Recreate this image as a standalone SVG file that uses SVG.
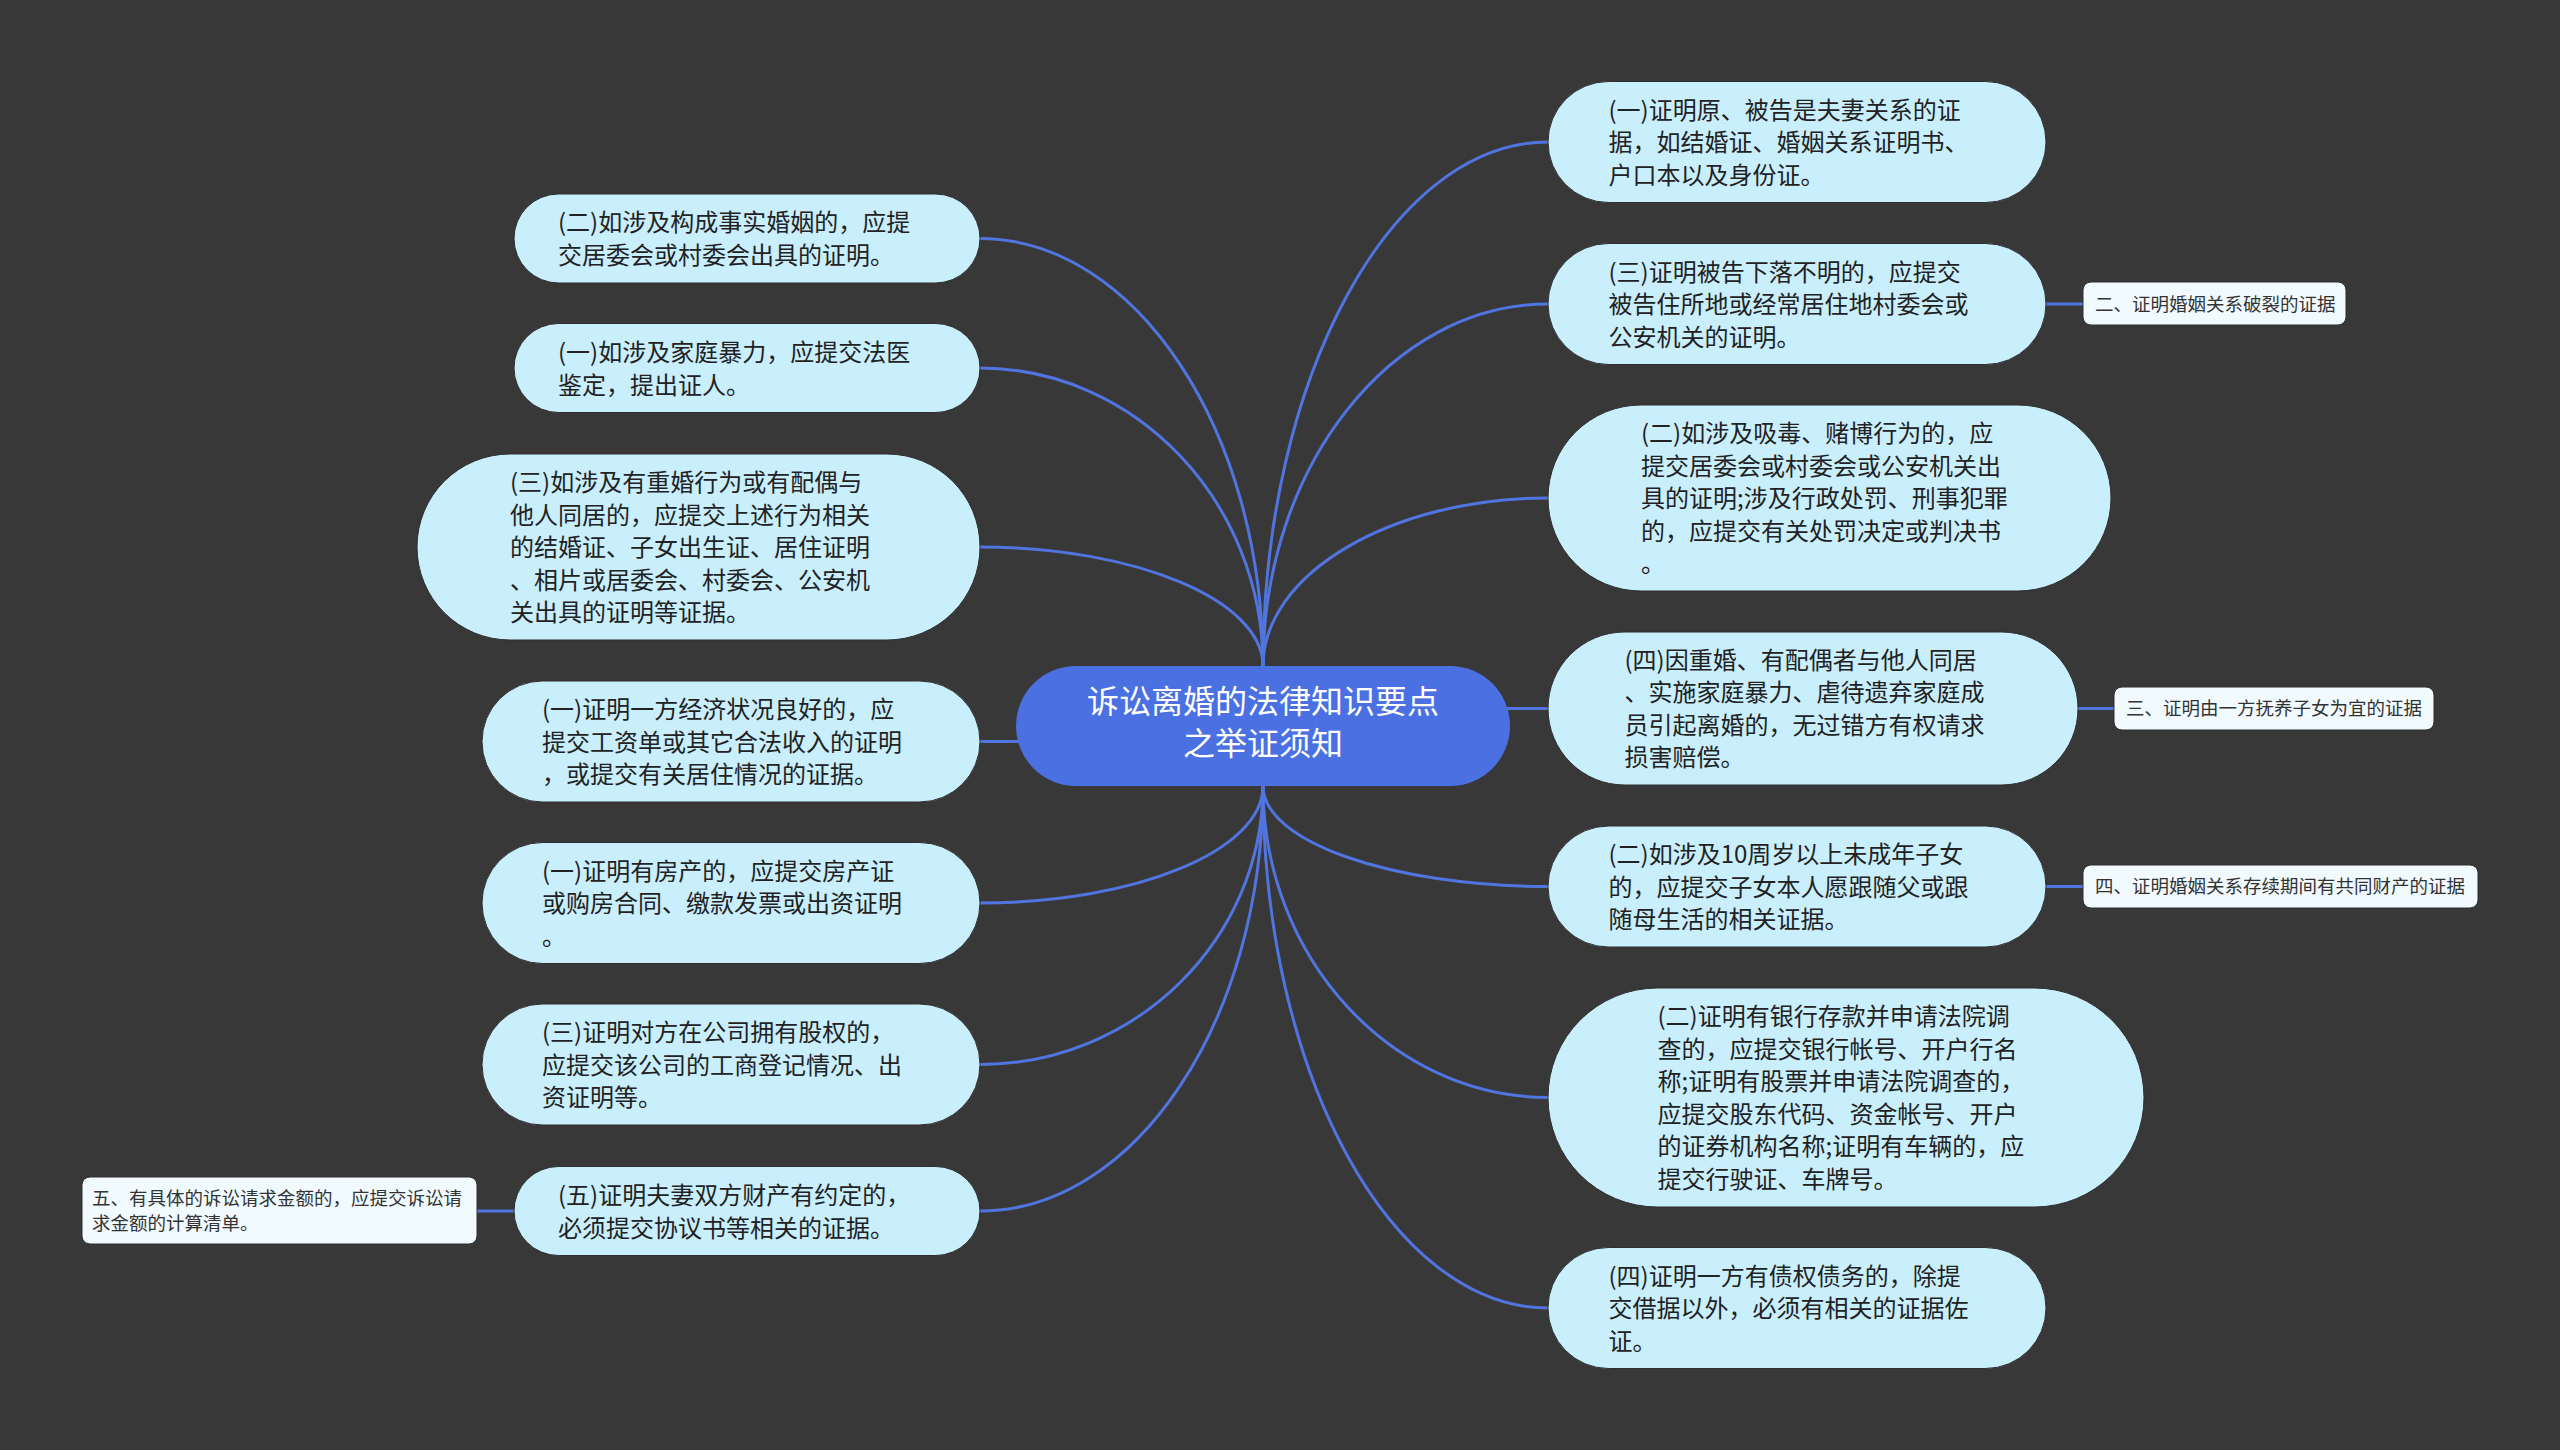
<svg xmlns="http://www.w3.org/2000/svg" width="2560" height="1450" viewBox="0 0 2560 1450">
<style>
.bg{fill:#393839}
.lk{fill:none;stroke:#5075e0;stroke-width:3}
.nd{fill:#c9eefc;stroke:#2e2e2e;stroke-width:1}
.sm{fill:#f0faff;stroke:#2e2e2e;stroke-width:1}
.ct{fill:#4b70e2}
.t{font-family:"Noto Sans CJK SC","Microsoft YaHei",sans-serif;font-size:24px;fill:#222}
.ts{font-family:"Noto Sans CJK SC","Microsoft YaHei",sans-serif;font-size:18.5px;fill:#333}
.tc{font-family:"Noto Sans CJK SC","Microsoft YaHei",sans-serif;font-size:32px;fill:#ffffff;text-anchor:middle}
</style>
<rect class="bg" x="0" y="0" width="2560" height="1450"/>
<g id="connectors">
<path class="lk" d="M1263,666 C1263,430.9 1135.7,238.5 980,238.5"/>
<path class="lk" d="M1263,666 C1263,502.1 1135.7,368 980,368"/>
<path class="lk" d="M1263,666 C1263,600.6 1135.7,547 980,547"/>
<path class="lk" d="M1263,741.5 H980"/>
<path class="lk" d="M1263,786 C1263,850.4 1135.7,903 980,903"/>
<path class="lk" d="M1263,786 C1263,939.2 1135.7,1064.5 980,1064.5"/>
<path class="lk" d="M1263,786 C1263,1019.8 1135.7,1211 980,1211"/>
<path class="lk" d="M1263,666 C1263,377.8 1391.3,142 1548,142"/>
<path class="lk" d="M1263,666 C1263,466.9 1391.3,304 1548,304"/>
<path class="lk" d="M1263,666 C1263,573.6 1391.3,498 1548,498"/>
<path class="lk" d="M1263,708.5 H1548"/>
<path class="lk" d="M1263,786 C1263,841.3 1391.3,886.5 1548,886.5"/>
<path class="lk" d="M1263,786 C1263,957.3 1391.3,1097.5 1548,1097.5"/>
<path class="lk" d="M1263,786 C1263,1073.1 1391.3,1308 1548,1308"/>
<path class="lk" d="M2046,304 H2083"/>
<path class="lk" d="M2078,708.5 H2114"/>
<path class="lk" d="M2046,886.5 H2083"/>
<path class="lk" d="M514,1211 H477"/>
</g>
<g id="center">
<rect class="ct" x="1016" y="666" width="494" height="120" rx="60"/>
<text class="tc" x="1263" y="713">诉讼离婚的法律知识要点</text>
<text class="tc" x="1263" y="755">之举证须知</text>
</g>
<g id="L1">
<rect class="nd" x="514" y="194" width="466" height="89" rx="44.5"/>
<text class="t" x="558" y="231">(二)如涉及构成事实婚姻的，应提<tspan x="558" dy="32.5">交居委会或村委会出具的证明。</tspan></text>
</g>
<g id="L2">
<rect class="nd" x="514" y="323.5" width="466" height="89" rx="44.5"/>
<text class="t" x="558" y="361">(一)如涉及家庭暴力，应提交法医<tspan x="558" dy="32.5">鉴定，提出证人。</tspan></text>
</g>
<g id="L3">
<rect class="nd" x="417" y="454" width="563" height="186" rx="93"/>
<text class="t" x="510" y="491">(三)如涉及有重婚行为或有配偶与<tspan x="510" dy="32.5">他人同居的，应提交上述行为相关</tspan><tspan x="510" dy="32.5">的结婚证、子女出生证、居住证明</tspan><tspan x="510" dy="32.5">、相片或居委会、村委会、公安机</tspan><tspan x="510" dy="32.5">关出具的证明等证据。</tspan></text>
</g>
<g id="L4">
<rect class="nd" x="482" y="681" width="498" height="121" rx="60.5"/>
<text class="t" x="542" y="718">(一)证明一方经济状况良好的，应<tspan x="542" dy="32.5">提交工资单或其它合法收入的证明</tspan><tspan x="542" dy="32.5">，或提交有关居住情况的证据。</tspan></text>
</g>
<g id="L5">
<rect class="nd" x="482" y="842.5" width="498" height="121" rx="60.5"/>
<text class="t" x="542" y="879.5">(一)证明有房产的，应提交房产证<tspan x="542" dy="32.5">或购房合同、缴款发票或出资证明</tspan><tspan x="542" dy="32.5">。</tspan></text>
</g>
<g id="L6">
<rect class="nd" x="482" y="1004" width="498" height="121" rx="60.5"/>
<text class="t" x="542" y="1041">(三)证明对方在公司拥有股权的，<tspan x="542" dy="32.5">应提交该公司的工商登记情况、出</tspan><tspan x="542" dy="32.5">资证明等。</tspan></text>
</g>
<g id="L7">
<rect class="nd" x="514" y="1166.5" width="466" height="89" rx="44.5"/>
<text class="t" x="558" y="1204">(五)证明夫妻双方财产有约定的，<tspan x="558" dy="32.5">必须提交协议书等相关的证据。</tspan></text>
</g>
<g id="L7a">
<rect class="sm" x="82" y="1177" width="395" height="67" rx="8"/>
<text class="ts" x="92" y="1205">五、有具体的诉讼请求金额的，应提交诉讼请<tspan x="92" dy="25">求金额的计算清单。</tspan></text>
</g>
<g id="R1">
<rect class="nd" x="1548" y="81.5" width="498" height="121" rx="60.5"/>
<text class="t" x="1608.5" y="118.5">(一)证明原、被告是夫妻关系的证<tspan x="1608.5" dy="32.5">据，如结婚证、婚姻关系证明书、</tspan><tspan x="1608.5" dy="32.5">户口本以及身份证。</tspan></text>
</g>
<g id="R2">
<rect class="nd" x="1548" y="243.5" width="498" height="121" rx="60.5"/>
<text class="t" x="1608.5" y="280.5">(三)证明被告下落不明的，应提交<tspan x="1608.5" dy="32.5">被告住所地或经常居住地村委会或</tspan><tspan x="1608.5" dy="32.5">公安机关的证明。</tspan></text>
</g>
<g id="R2a">
<rect class="sm" x="2083" y="282" width="263" height="43" rx="8"/>
<text class="ts" x="2095" y="310.5">二、证明婚姻关系破裂的证据</text>
</g>
<g id="R3">
<rect class="nd" x="1548" y="405" width="563" height="186" rx="93"/>
<text class="t" x="1641" y="442">(二)如涉及吸毒、赌博行为的，应<tspan x="1641" dy="32.5">提交居委会或村委会或公安机关出</tspan><tspan x="1641" dy="32.5">具的证明;涉及行政处罚、刑事犯罪</tspan><tspan x="1641" dy="32.5">的，应提交有关处罚决定或判决书</tspan><tspan x="1641" dy="32.5">。</tspan></text>
</g>
<g id="R4">
<rect class="nd" x="1548" y="632" width="530" height="153" rx="76.5"/>
<text class="t" x="1624.5" y="668.75">(四)因重婚、有配偶者与他人同居<tspan x="1624.5" dy="32.5">、实施家庭暴力、虐待遗弃家庭成</tspan><tspan x="1624.5" dy="32.5">员引起离婚的，无过错方有权请求</tspan><tspan x="1624.5" dy="32.5">损害赔偿。</tspan></text>
</g>
<g id="R4a">
<rect class="sm" x="2114" y="687" width="320" height="43" rx="8"/>
<text class="ts" x="2126" y="715">三、证明由一方抚养子女为宜的证据</text>
</g>
<g id="R5">
<rect class="nd" x="1548" y="826" width="498" height="121" rx="60.5"/>
<text class="t" x="1608.5" y="863">(二)如涉及10周岁以上未成年子女<tspan x="1608.5" dy="32.5">的，应提交子女本人愿跟随父或跟</tspan><tspan x="1608.5" dy="32.5">随母生活的相关证据。</tspan></text>
</g>
<g id="R5a">
<rect class="sm" x="2083" y="865" width="395" height="43" rx="8"/>
<text class="ts" x="2095" y="893">四、证明婚姻关系存续期间有共同财产的证据</text>
</g>
<g id="R6">
<rect class="nd" x="1548" y="988" width="596" height="219" rx="109.5"/>
<text class="t" x="1657.5" y="1025.25">(二)证明有银行存款并申请法院调<tspan x="1657.5" dy="32.5">查的，应提交银行帐号、开户行名</tspan><tspan x="1657.5" dy="32.5">称;证明有股票并申请法院调查的，</tspan><tspan x="1657.5" dy="32.5">应提交股东代码、资金帐号、开户</tspan><tspan x="1657.5" dy="32.5">的证券机构名称;证明有车辆的，应</tspan><tspan x="1657.5" dy="32.5">提交行驶证、车牌号。</tspan></text>
</g>
<g id="R7">
<rect class="nd" x="1548" y="1247.5" width="498" height="121" rx="60.5"/>
<text class="t" x="1608.5" y="1284.5">(四)证明一方有债权债务的，除提<tspan x="1608.5" dy="32.5">交借据以外，必须有相关的证据佐</tspan><tspan x="1608.5" dy="32.5">证。</tspan></text>
</g>
</svg>
